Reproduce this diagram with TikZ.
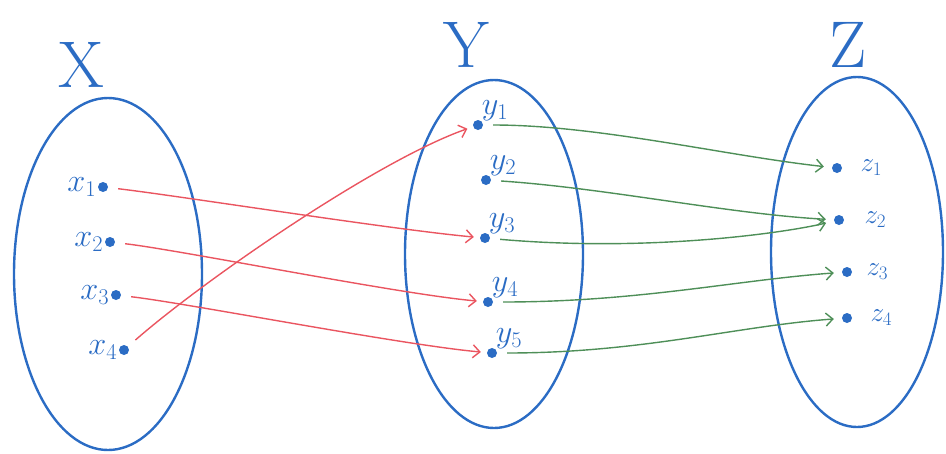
\documentclass[tikz,border=0pt]{standalone}
\usetikzlibrary{arrows.meta}
\definecolor{pen}{HTML}{2B6CC4}
\definecolor{redpen}{HTML}{EA5560}
\definecolor{greenpen}{HTML}{4E8F58}
\tikzset{
  setline/.style={draw=pen, line width=2.4pt},
  dot/.style={circle, fill=pen, inner sep=0pt, minimum size=10pt},
  lab/.style={text=pen, font=\fontsize{24}{24}\selectfont, inner sep=1pt, scale=1.3, transform shape},
  zlab/.style={text=pen, font=\fontsize{24}{24}\selectfont, inner sep=1pt, scale=1.1, transform shape},
  setlab/.style={text=pen, font=\fontsize{66}{66}\selectfont, inner sep=0pt},
  redarr/.style={draw=redpen, line width=1.4pt, -{Straight Barb[length=7pt,width=13pt]}, shorten >=6pt, shorten <=10pt},
  greenarr/.style={draw=greenpen, line width=1.4pt, -{Straight Barb[length=7pt,width=13pt]}, shorten >=8pt, shorten <=10pt}
}
\begin{document}
\begin{tikzpicture}[x=1pt,y=-1pt]
\useasboundingbox (0,0) rectangle (946,453);
% sets
\draw[setline] (108,274) ellipse [x radius=94, y radius=176];
\draw[setline] (494,254) ellipse [x radius=89, y radius=174];
\draw[setline] (857,252) ellipse [x radius=86, y radius=175];
\node[setlab] (X) at (81,65) {X};
\node[setlab] (Y) at (466,45) {Y};
\node[setlab] (Z) at (848,45) {Z};
% points of X
\node[dot] (x1) at (103,187) {};
\node[dot] (x2) at (110,242) {};
\node[dot] (x3) at (116,295) {};
\node[dot] (x4) at (124,350) {};
\node[lab, anchor=east] at (x1.west) {$x_1$};
\node[lab, anchor=east] at (x2.west) {$x_2$};
\node[lab, anchor=east] at (x3.west) {$x_3$};
\node[lab, anchor=east] at (x4.west) {$x_4$};
% points of Y
\node[dot] (y1) at (478,125) {};
\node[dot] (y2) at (486,180) {};
\node[dot] (y3) at (485,238) {};
\node[dot] (y4) at (488,302) {};
\node[dot] (y5) at (492,353) {};
\node[lab, anchor=south west, inner sep=0pt] at (y1.north east) {$y_1$};
\node[lab, anchor=south west, inner sep=0pt] at (y2.north east) {$y_2$};
\node[lab, anchor=south west, inner sep=0pt] at (y3.north east) {$y_3$};
\node[lab, anchor=south west, inner sep=0pt] at (y4.north east) {$y_4$};
\node[lab, anchor=south west, inner sep=0pt] at (y5.north east) {$y_5$};
% points of Z
\node[dot] (z1) at (837,168) {};
\node[dot] (z2) at (839,220) {};
\node[dot] (z3) at (847,272) {};
\node[dot] (z4) at (847,318) {};
\node[zlab, anchor=west] at ([xshift=17pt]z1.east) {$z_1$};
\node[zlab, anchor=west] at ([xshift=19pt]z2.east) {$z_2$};
\node[zlab, anchor=west] at ([xshift=13pt]z3.east) {$z_3$};
\node[zlab, anchor=west] at ([xshift=17pt]z4.east) {$z_4$};
% f : X -> Y
\draw[redarr] (x1) .. controls +(70,8) and +(-90,-8) .. (y3);
\draw[redarr] (x2) .. controls +(70,8) and +(-90,-8) .. (y4);
\draw[redarr] (x3) .. controls +(70,8) and +(-90,-8) .. (y5);
\draw[redarr] (x4) .. controls +(80,-70) and +(-100,35) .. (y1);
% g : Y -> Z
\draw[greenarr] (y1) .. controls +(120,0) and +(-110,-12) .. (z1);
\draw[greenarr] (y2) .. controls +(120,8) and +(-110,-6) .. (z2);
\draw[greenarr] (y3) .. controls +(160,14) and +(-60,14) .. (z2);
\draw[greenarr] (y4) .. controls +(150,0) and +(-110,8) .. (z3);
\draw[greenarr] (y5) .. controls +(150,0) and +(-110,8) .. (z4);
\end{tikzpicture}
\end{document}
